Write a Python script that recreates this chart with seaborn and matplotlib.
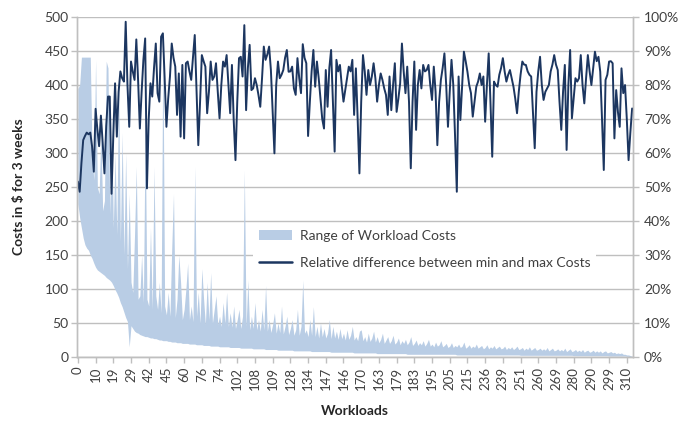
import numpy as np
import pandas as pd
import matplotlib
matplotlib.use("Agg")
import matplotlib.pyplot as plt
import seaborn as sns
from matplotlib.patches import Patch
from matplotlib.lines import Line2D

# Workload costs (one value per workload, in $)
max_costs = [
    395, 400, 441, 441, 441, 441, 441, 441, 300, 260,
    437, 250, 240, 330, 215, 230, 435, 425, 210, 360,
    190, 300, 180, 410, 170, 330, 150, 300, 130, 240,
    110, 95, 180, 280, 85, 90, 150, 80, 340, 85,
    75, 190, 70, 280, 90, 70, 110, 65, 470, 75,
    62, 95, 60, 160, 240, 58, 85, 150, 110, 55,
    70, 100, 138, 55, 75, 52, 280, 60, 95, 50,
    130, 85, 48, 110, 55, 124, 50, 70, 90, 48,
    60, 45, 80, 50, 95, 45, 65, 44, 75, 42,
    55, 70, 42, 60, 275, 45, 113, 40, 60, 42,
    80, 40, 55, 38, 70, 40, 105, 38, 55, 36,
    48, 65, 35, 50, 36, 75, 34, 45, 60, 33,
    42, 55, 32, 40, 70, 32, 45, 113, 35, 40,
    30, 55, 32, 74, 30, 45, 28, 50, 30, 42,
    28, 35, 55, 27, 45, 28, 38, 26, 42, 27,
    35, 25, 40, 26, 32, 45, 25, 30, 24, 38,
    40, 24, 30, 22, 35, 23, 28, 38, 22, 30,
    21, 26, 35, 20, 25, 30, 20, 24, 32, 19,
    22, 28, 18, 24, 20, 26, 18, 22, 30, 17,
    20, 25, 17, 21, 18, 24, 16, 20, 26, 16,
    19, 15, 22, 16, 18, 24, 15, 17, 20, 14,
    16, 21, 14, 17, 15, 19, 14, 16, 22, 13,
    15, 18, 13, 16, 14, 19, 13, 15, 17, 12,
    14, 18, 12, 15, 13, 17, 12, 14, 16, 12,
    13, 16, 11, 14, 12, 15, 11, 13, 16, 11,
    12, 14, 10, 13, 11, 15, 10, 12, 14, 10,
    11, 13, 10, 12, 10, 14, 9, 11, 13, 9,
    10, 12, 9, 11, 9, 13, 8, 10, 12, 8,
    9, 11, 8, 10, 8, 11, 7, 9, 10, 7,
    8, 10, 7, 9, 7, 9, 6, 8, 9, 6,
    7, 8, 6, 7, 5, 6, 5, 6, 4, 4,
    3, 3, 2, 1,
]

min_costs = [
    225, 205, 190, 175, 165, 160, 157, 150, 145, 138,
    132, 128, 126, 124, 122, 120, 117, 115, 113, 110,
    105, 99, 94, 88, 80, 74, 66, 58, 52, 15,
    46, 42, 38, 36, 35, 33, 32, 31, 30, 30,
    29, 28, 28, 27, 27, 26, 25, 25, 24, 24,
    24, 23, 23, 22, 22, 22, 21, 21, 21, 20,
    20, 20, 20, 19, 19, 19, 19, 18, 18, 18,
    18, 17, 17, 17, 17, 16, 16, 16, 16, 16,
    15, 15, 15, 15, 15, 15, 14, 14, 14, 14,
    14, 14, 13, 13, 13, 13, 13, 13, 13, 12,
    12, 12, 12, 12, 12, 12, 11, 11, 11, 11,
    11, 11, 11, 10, 10, 10, 10, 10, 10, 10,
    10, 10, 9, 9, 9, 9, 9, 9, 9, 9,
    9, 9, 8, 8, 8, 8, 8, 8, 8, 8,
    8, 8, 8, 7, 7, 7, 7, 7, 7, 7,
    7, 7, 7, 7, 7, 7, 6, 6, 6, 6,
    6, 6, 6, 6, 6, 6, 6, 6, 6, 5,
    5, 5, 5, 5, 5, 5, 5, 5, 5, 5,
    5, 5, 5, 5, 5, 5, 4, 4, 4, 4,
    4, 4, 4, 4, 4, 4, 4, 4, 4, 4,
    4, 4, 4, 4, 4, 4, 4, 4, 4, 4,
    4, 4, 4, 4, 3, 3, 3, 3, 3, 3,
    3, 3, 3, 3, 3, 3, 3, 3, 3, 3,
    3, 3, 3, 3, 3, 3, 3, 3, 3, 3,
    3, 3, 3, 3, 3, 3, 3, 3, 3, 3,
    2.5, 2.5, 2.5, 2.5, 2.5, 2.5, 2.5, 2.5, 2.5, 2.5,
    2.5, 2.5, 2.5, 2.5, 2.5, 2.5, 2.5, 2.5, 2.5, 2.5,
    2.5, 2.5, 2.5, 2.5, 2.5, 2.5, 2.5, 2.5, 2.5, 2.5,
    2, 2, 2, 2, 2, 2, 2, 2, 2, 2,
    2, 2, 2, 2, 2, 2, 2, 2, 2, 2,
    1.5, 1.5, 1.5, 1.5, 1.5, 1.5, 1.5, 1.5, 1.5, 1.5,
    1, 1, 0.5, 0.5,
]

# Relative difference between min and max (in %)
rel_diff = [
    51.6, 48.6, 57, 63.8, 65, 66, 65.5, 66, 62, 54.5,
    73, 67, 62, 71, 63, 54, 68, 76.6, 76.6, 48,
    65, 80.5, 64.8, 78, 84, 82, 81, 98.6, 80, 67.7,
    86.9, 84, 81.5, 93.4, 81.5, 67.2, 78, 87.4, 93.7, 49.6,
    70, 80.5, 76.6, 85, 92.2, 77.6, 75.1, 94.2, 95.2, 82,
    67.7, 76, 82.5, 92.2, 88, 85.4, 71.2, 83.4, 64.8, 85.9,
    64.3, 86.4, 86.9, 84, 81.5, 88, 94.7, 78, 62.3, 75,
    88.8, 87, 85.4, 71.7, 78, 86.9, 81.5, 82.5, 86.4, 78,
    70.2, 80, 86.9, 85.4, 88.8, 80, 71.7, 85.9, 69.7, 57.9,
    75, 87.9, 88.3, 82.5, 97.6, 72.6, 85, 91.8, 78.5, 79,
    82, 80, 77, 73.6, 82, 91.3, 87.4, 89, 91.3, 84.4,
    72, 59.9, 80, 86.9, 82, 83, 84.4, 88, 90.3, 83.9,
    84, 85.4, 79, 77.1, 87.9, 82, 77.6, 92, 88, 86.4,
    65, 75, 84, 90.3, 79.5, 86.9, 82, 76, 70, 67.2,
    84.4, 73.6, 85, 90.3, 75, 60.4, 87.4, 84, 85.9, 80,
    75.1, 78.5, 82, 85.4, 84, 87.4, 71.2, 84.9, 70, 54,
    75, 88.8, 84, 77.1, 84.4, 80, 82.5, 86.4, 82, 75.1,
    80, 83.4, 81.5, 79, 77.1, 71.2, 82.5, 72.6, 80, 86.4,
    72.1, 76, 80.5, 92.2, 84, 77.6, 85.4, 75, 55.5, 75,
    86.9, 66.8, 80, 84.4, 79, 85.9, 84, 84.4, 85.9, 80,
    75.6, 85.4, 78, 62.3, 75, 81.5, 85, 89.3, 80, 67.7,
    78, 87.4, 80, 65, 48.6, 82.5, 69.7, 80, 89.8, 87,
    83.9, 80, 77.6, 70.7, 75, 79.5, 81, 83.4, 80, 82.5,
    69.2, 80, 89.3, 75, 58.9, 81, 80, 79.5, 83, 85,
    87.9, 84, 81, 83, 84.4, 82, 79.5, 76, 71.7, 78,
    83, 86.9, 86, 85.9, 84, 83, 82.5, 72, 61.4, 78,
    84, 88.3, 80, 75.6, 78, 79, 80, 84, 86, 88.8,
    86, 84.4, 75, 66.8, 78, 85.9, 60.9, 80, 90.3, 70.2,
    76, 82, 81, 82, 88.8, 80, 74.6, 82, 88.8, 84,
    80, 85, 89.8, 87, 88.3, 83.9, 70, 55, 81.5, 83,
    86.9, 87, 86.4, 64.3, 78.5, 72, 67.7, 84.9, 77.6, 80,
    70, 57.9, 66, 73.1,
]

# Workload ids printed under every 10th category
tick_labels = ["0", "10", "19", "29", "42", "45", "60", "76", "74", "102",
               "108", "109", "128", "134", "147", "146", "170", "163", "179", "183",
               "195", "205", "215", "236", "239", "251", "260", "269", "280", "290",
               "299", "310"]

df = pd.DataFrame({
    "pos": np.arange(len(rel_diff)),
    "min_cost": min_costs,
    "max_cost": max_costs,
    "rel_diff": rel_diff,
})

# Stil
sns.set_theme(style="white")
plt.rcParams["font.family"] = ["Lato", "DejaVu Sans"]

area_color = "#b9cde5"
line_color = "#1c3660"
grid_color = "#bfbfbf"
text_color = "#404040"

fig = plt.figure(figsize=(6.87, 4.23), dpi=100)
ax = fig.add_axes([77 / 687, 1 - 357 / 423, (633 - 77) / 687, (357 - 17) / 423])

# Range of costs (min..max) as filled area
ax.fill_between(df["pos"], df["min_cost"], df["max_cost"], color=area_color, linewidth=0)

ax.set_xlim(-0.5, len(df) - 0.5)
ax.set_ylim(0, 500)
ax.set_yticks(range(0, 501, 50))
ax.yaxis.grid(True, color=grid_color, linewidth=1)
ax.set_axisbelow(True)
ax.set_xticks(range(0, len(tick_labels) * 10, 10))
ax.set_xticklabels(tick_labels, rotation=90)

# Relative difference on the right axis
ax2 = ax.twinx()
sns.lineplot(data=df, x="pos", y="rel_diff", ax=ax2, color=line_color, linewidth=1.4)
ax2.set_ylim(0, 100)
ax2.set_yticks(range(0, 101, 10))
ax2.set_yticklabels([f"{v}%" for v in range(0, 101, 10)])
ax2.set_xlim(-0.5, len(df) - 0.5)
ax2.set_ylabel("")
ax2.set_xlabel("")

for a in (ax, ax2):
    for side in ("left", "right", "bottom"):
        a.spines[side].set_visible(True)
        a.spines[side].set_color(grid_color)
        a.spines[side].set_linewidth(1)
    a.spines["top"].set_visible(False)
    a.tick_params(colors=text_color, labelsize=10, length=4, width=1, color=grid_color, pad=2)

ax.tick_params(axis="y", left=True)
ax.tick_params(axis="x", bottom=True, labelsize=9.5, pad=3)
ax2.tick_params(axis="y", right=True, pad=4)

ax.set_ylabel(r"Costs in \$ for 3 weeks", fontsize=10, fontweight="bold", color="#262626", labelpad=14)
ax.set_xlabel("Workloads", fontsize=10, fontweight="bold", color="#262626", labelpad=11)

handles = [
    Patch(facecolor=area_color, edgecolor="none"),
    Line2D([0], [0], color=line_color, linewidth=1.8),
]
labels = ["Range of Workload Costs", "Relative difference between min and max Costs"]
leg = ax2.legend(handles, labels, loc="upper left",
                 bbox_to_anchor=(253 / 687, 1 - 224 / 423), bbox_transform=fig.transFigure,
                 frameon=True, facecolor="white", edgecolor="none", framealpha=1,
                 fontsize=10, handlelength=2.4, labelspacing=1.1, borderaxespad=0,
                 borderpad=0.4, handletextpad=0.6, fancybox=False)
for t in leg.get_texts():
    t.set_color(text_color)

fig.savefig("out.png", dpi=100)
plt.close(fig)
